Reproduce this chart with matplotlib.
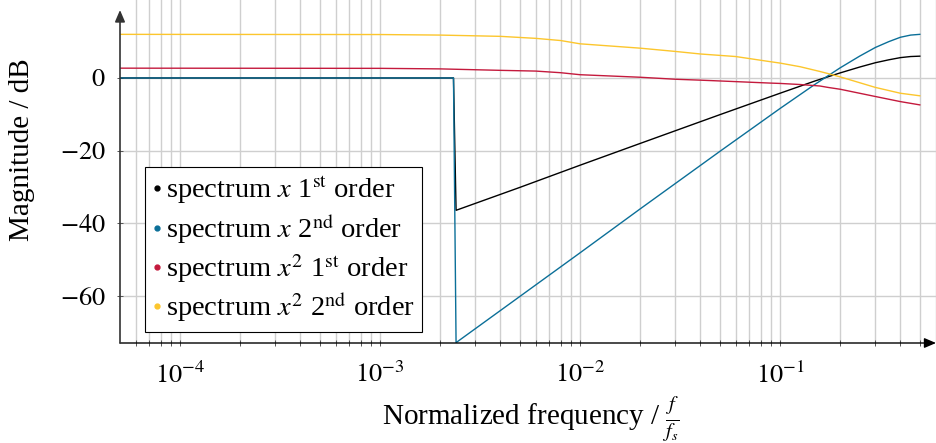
import matplotlib
matplotlib.use("Agg")
import matplotlib.pyplot as plt
from matplotlib.lines import Line2D
from matplotlib.ticker import LogLocator, NullFormatter

plt.rcParams['font.family'] = ['Liberation Serif', 'DejaVu Serif']
plt.rcParams['mathtext.fontset'] = 'stix'

# ---- data ----
f_x = [5e-5, 0.00233, 0.0024, 0.005, 0.01, 0.02, 0.05, 0.1, 0.15, 0.2,
       0.25, 0.3, 0.35, 0.4, 0.45, 0.5]
x_first = [0.0, 0.0, -36.4, -30.1, -24.0, -18.0, -10.1, -4.2, -0.8, 1.4,
           3.0, 4.2, 5.0, 5.6, 5.9, 6.0]
x_second = [0.0, 0.0, -72.8, -60.1, -48.1, -36.0, -20.2, -8.4, -1.7, 2.8,
            6.0, 8.4, 10.0, 11.2, 11.8, 12.0]

f_x2 = [5e-5, 1e-3, 2e-3, 4e-3, 6e-3, 8e-3, 1e-2, 0.02, 0.03, 0.04, 0.06,
        0.089, 0.1, 0.126, 0.158, 0.174, 0.2, 0.3, 0.4, 0.5]
x2_first = [2.7, 2.65, 2.5, 2.1, 1.9, 1.45, 0.9, 0.2, -0.35, -0.6, -1.0,
            -1.4, -1.5, -1.8, -2.2, -2.6, -3.1, -5.1, -6.5, -7.4]
x2_second = [12.0, 11.95, 11.8, 11.45, 10.9, 10.3, 9.4, 8.2, 7.3, 6.6, 5.9,
             4.5, 4.1, 3.1, 1.8, 1.2, 0.3, -2.6, -4.2, -4.9]

labels = [r"spectrum $x$ 1$^{\mathrm{st}}$ order",
          r"spectrum $x$ 2$^{\mathrm{nd}}$ order",
          r"spectrum $x^2$ 1$^{\mathrm{st}}$ order",
          r"spectrum $x^2$ 2$^{\mathrm{nd}}$ order"]
colors = ['black', '#0b6f98', '#c41a3d', '#fcc62d']

xticks = [1e-4, 1e-3, 1e-2, 1e-1]
xticklabels = [r"$10^{-4}$", r"$10^{-3}$", r"$10^{-2}$", r"$10^{-1}$"]
yticks = [0, -20, -40, -60]
yticklabels = [r"$0$", r"$-20$", r"$-40$", r"$-60$"]

W, H = 936, 443
fig = plt.figure(figsize=(W / 100, H / 100), dpi=100)
ax = fig.add_axes([120 / W, (H - 343) / H, (W - 120) / W, 343 / H])

series = [(f_x, x_first), (f_x, x_second), (f_x2, x2_first), (f_x2, x2_second)]
for (fx, vals), c in zip(series, colors):
    ax.plot(fx, vals, color=c, lw=1.0, zorder=3)

ax.set_xscale('log')
ax.set_xlim(5.01e-5, 10 ** (-0.22))
ax.set_ylim(-72.9, 21.45)

ax.set_xticks(xticks)
ax.set_xticklabels(xticklabels)
ax.xaxis.set_minor_locator(LogLocator(base=10, subs=range(2, 10), numticks=20))
ax.xaxis.set_minor_formatter(NullFormatter())
ax.set_yticks(yticks)
ax.set_yticklabels(yticklabels)

ax.grid(True, which='major', color='#cfcfcf', lw=1.0, zorder=0)
ax.grid(True, which='minor', axis='x', color='#cfcfcf', lw=1.0, zorder=0)
ax.set_axisbelow(True)

ax.tick_params(axis='both', which='both', direction='inout', length=4.5,
               width=0.7, color='#555555', labelsize=19)
ax.tick_params(axis='x', which='major', pad=11)
ax.tick_params(axis='y', which='major', pad=8)

for s in ax.spines.values():
    s.set_visible(False)

ax.annotate('', xy=(1.0, 0.0), xytext=(0.0, 0.0), xycoords='axes fraction',
            arrowprops=dict(arrowstyle='-|>,head_length=0.7,head_width=0.3',
                            color='black', lw=1.0, shrinkA=0, shrinkB=0),
            zorder=5, annotation_clip=False)
ax.annotate('', xy=(0.0, 1 - 10 / 343), xytext=(0.0, 0.0), xycoords='axes fraction',
            arrowprops=dict(arrowstyle='-|>,head_length=0.7,head_width=0.3',
                            color='#333333', lw=1.2, shrinkA=0, shrinkB=0),
            zorder=5, annotation_clip=False)

handles = [Line2D([], [], marker='o', ls='none', color=c, markersize=3.5)
           for c in colors]
leg = ax.legend(handles, labels, loc='upper left',
                bbox_to_anchor=((145 - 120) / 816, 1 - 167 / 343),
                borderaxespad=0, fontsize=20.5, handlelength=0.3,
                handletextpad=0.15, labelspacing=0.21, borderpad=0.27,
                fancybox=False, framealpha=1, edgecolor='black')
leg.get_frame().set_linewidth(0.8)
leg.set_zorder(10)

fig.text(22 / W, 1 - 150 / H, "Magnitude / dB", rotation=90, ha='center',
         va='center', fontsize=21)
fig.text(531 / W, 1 - 425 / H, r"Normalized frequency / $\frac{f}{f_s}$",
         ha='center', va='baseline', fontsize=21)

fig.savefig('out.png', dpi=100)
